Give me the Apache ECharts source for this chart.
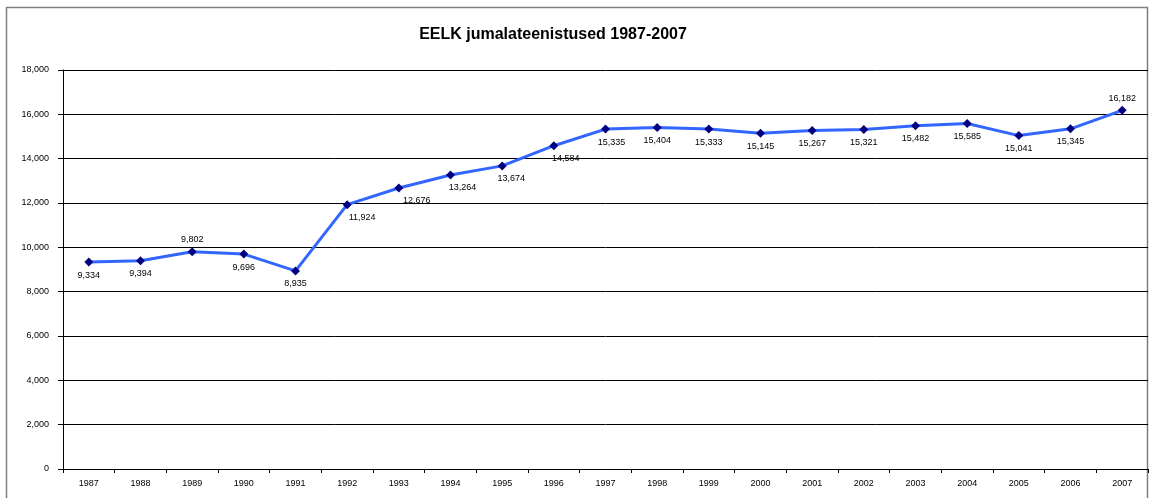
<!DOCTYPE html>
<html>
<head>
<meta charset="utf-8">
<script src="https://cdn.jsdelivr.net/npm/echarts@6/dist/echarts.min.js"></script>
<style>
  html, body { margin: 0; padding: 0; background: #fff; }
  #echart_box { width: 1152px; height: 498px; }
</style>
</head>
<body>
<div id="echart_box"></div>
<script>
let years = ['1987', '1988', '1989', '1990', '1991', '1992', '1993', '1994', '1995', '1996', '1997',
    '1998', '1999', '2000', '2001', '2002', '2003', '2004', '2005', '2006', '2007']
let services = [9334, 9394, 9802, 9696, 8935, 11924, 12676, 13264, 13674, 14584, 15335,
    15404, 15333, 15145, 15267, 15321, 15482, 15585, 15041, 15345, 16182]
// labels that sit above the point, all others go below
let labelsAbove = ['1989', '2007']
// horizontal shift of some labels (where the line climbs steeply)
let labelShift = { '1992': 15, '1993': 18, '1994': 12, '1995': 9, '1996': 12, '1997': 6 }

let myChart = echarts.init(document.getElementById('echart_box'))

let seriesData = services.map((v, i) => {
    let above = labelsAbove.indexOf(years[i]) >= 0
    return {
        value: v,
        label: {
            position: above ? 'top' : 'bottom',
            distance: above ? 3 : 4,
            offset: [labelShift[years[i]] || 0, 0]
        }
    }
})

let option = {
    animation: false,
    textStyle: { fontFamily: 'Liberation Sans, Arial, sans-serif' },
    title: {
        text: 'EELK jumalateenistused 1987-2007',
        left: 548,
        top: 22,
        textAlign: 'center',
        textStyle: { fontSize: 16, fontWeight: 'bold', color: '#000' }
    },
    graphic: [{
        type: 'rect',
        shape: { x: 6.5, y: 7.5, width: 1141, height: 500 },
        style: { fill: 'none', stroke: '#7f7f7f', lineWidth: 1.5 },
        silent: true
    }],
    grid: { left: 63, right: 4, top: 70, bottom: 29 },
    xAxis: {
        type: 'category',
        data: years,
        boundaryGap: true,
        axisLine: { lineStyle: { color: '#000', width: 1 } },
        axisTick: { show: true, inside: false, length: 4, lineStyle: { color: '#000' } },
        axisLabel: { fontSize: 9, color: '#000', margin: 10 },
        splitLine: { show: false }
    },
    yAxis: {
        type: 'value',
        min: 0,
        max: 18000,
        interval: 2000,
        axisLine: { show: true, lineStyle: { color: '#000', width: 1 } },
        axisTick: { show: true, length: 5, lineStyle: { color: '#000' } },
        axisLabel: {
            fontSize: 9, color: '#000', margin: 14,
            formatter: v => v.toLocaleString('en-US')
        },
        splitLine: { lineStyle: { color: '#000', width: 1 } }
    },
    series: [{
        name: 'EELK',
        type: 'line',
        data: seriesData,
        symbol: 'diamond',
        symbolSize: 9,
        itemStyle: { color: '#000080' },
        lineStyle: { color: '#3366ff', width: 3 },
        label: {
            show: true,
            fontSize: 9,
            color: '#000',
            formatter: p => p.value.toLocaleString('en-US')
        }
    }]
}
myChart.setOption(option)
</script>
</body>
</html>
